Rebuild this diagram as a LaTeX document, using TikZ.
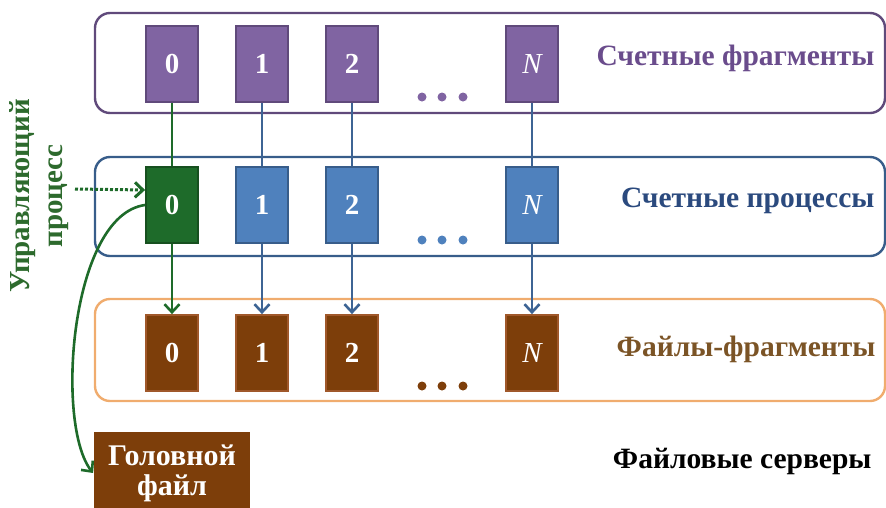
\documentclass[tikz,border=0pt]{standalone}
\usepackage{fontspec}
\setmainfont{Liberation Serif}
\usetikzlibrary{arrows.meta}

\definecolor{fragfill}{HTML}{8064A2}
\definecolor{fragdraw}{HTML}{604A7B}
\definecolor{fragtext}{HTML}{6A4C8C}
\definecolor{procfill}{HTML}{4F81BD}
\definecolor{procdraw}{HTML}{385D8A}
\definecolor{proctext}{HTML}{2B4A7E}
\definecolor{ctrlfill}{HTML}{1E6B2A}
\definecolor{ctrldraw}{HTML}{17501F}
\definecolor{ctrltext}{HTML}{2D6A2D}
\definecolor{filefill}{HTML}{7D3E0A}
\definecolor{filedraw}{HTML}{A0582A}
\definecolor{fileline}{HTML}{F0AC6E}
\definecolor{filetext}{HTML}{7B5426}

\begin{document}
\begin{tikzpicture}[x=1pt,y=-1pt]
	\tikzset{block/.style={rectangle, minimum width=52pt, minimum height=76pt, inner sep=0pt, line width=1.8pt, text=white, font=\fontsize{29}{32}\selectfont\bfseries}};
	\tikzset{frame/.style={rounded corners=15pt, line width=2.4pt}};
	\tikzset{lbl/.style={anchor=east, font=\fontsize{29.5}{32}\selectfont\bfseries}};
	\tikzset{link/.style={line width=2.6pt, >={Straight Barb[length=8pt,width=15pt]}}};
	\useasboundingbox (0,0) rectangle (886,507);
	% three levels
	\draw[frame,fragdraw] (95, 13) rectangle (885,113);
	\draw[frame,procdraw] (95,157) rectangle (885,256);
	\draw[frame,fileline] (95,299) rectangle (885,401);
	% blocks
	\node[draw=fragdraw,fill=fragfill,block] (Frag0) at (172, 64) {0};
	\node[draw=fragdraw,fill=fragfill,block] (Frag1) at (262, 64) {1};
	\node[draw=fragdraw,fill=fragfill,block] (Frag2) at (352, 64) {2};
	\node[draw=fragdraw,fill=fragfill,block] (FragN) at (532, 64) {\mdseries\itshape N};
	\node[draw=ctrldraw,fill=ctrlfill,block] (Ctrl0) at (172,205) {0};
	\node[draw=procdraw,fill=procfill,block] (Proc1) at (262,205) {1};
	\node[draw=procdraw,fill=procfill,block] (Proc2) at (352,205) {2};
	\node[draw=procdraw,fill=procfill,block] (ProcN) at (532,205) {\mdseries\itshape N};
	\node[draw=filedraw,fill=filefill,block] (File0) at (172,353) {0};
	\node[draw=filedraw,fill=filefill,block] (File1) at (262,353) {1};
	\node[draw=filedraw,fill=filefill,block] (File2) at (352,353) {2};
	\node[draw=filedraw,fill=filefill,block] (FileN) at (532,353) {\mdseries\itshape N};
	\node[fill=filefill,block,minimum width=156pt,minimum height=82pt,align=center,font=\fontsize{30}{30}\selectfont\bfseries] (Head) at (172,473) {Головной\\файл};
	% dots
	\fill[fragfill] (422, 97) circle (4.5);
	\fill[fragfill] (442, 97) circle (4.5);
	\fill[fragfill] (463, 97) circle (4.5);
	\fill[procfill] (422,240) circle (4.5);
	\fill[procfill] (442,240) circle (4.5);
	\fill[procfill] (463,240) circle (4.5);
	\fill[filefill] (422,386) circle (4.5);
	\fill[filefill] (442,386) circle (4.5);
	\fill[filefill] (463,386) circle (4.5);
	% labels
	\node[lbl,text=fragtext] (FragLbl) at (878, 58) {Счетные фрагменты};
	\node[lbl,text=proctext] (ProcLbl) at (878,201) {Счетные процессы};
	\node[lbl,text=filetext] (FileLbl) at (879,349) {Файлы-фрагменты};
	\node[lbl,text=black   ] (SrvLbl ) at (875,461) {Файловые серверы};
	\node[rotate=90,align=center,text=ctrltext,font=\fontsize{29}{33}\selectfont\bfseries] (CtrlLbl) at (39,196) {Управляющий\\процесс};
	% links
	\draw[link,ctrlfill] (Frag0)--(Ctrl0);
	\draw[link,procdraw!80!procfill] (Frag1)--(Proc1);
	\draw[link,procdraw!80!procfill] (Frag2)--(Proc2);
	\draw[link,procdraw!80!procfill] (FragN)--(ProcN);
	\draw[link,ctrlfill,->] (Ctrl0)--(File0);
	\draw[link,procdraw!80!procfill,->] (Proc1)--(File1);
	\draw[link,procdraw!80!procfill,->] (Proc2)--(File2);
	\draw[link,procdraw!80!procfill,->] (ProcN)--(FileN);
	\coordinate (CtrlIn) at (75,189);
	\draw[link,ctrlfill,line width=3pt,dash pattern=on 3pt off 2pt,->] (CtrlIn)--([yshift=15pt]Ctrl0.west);
	\draw[link,ctrlfill,->] (Ctrl0.west) .. controls (70,215) and (55,425) .. (Head.west);
\end{tikzpicture}
\end{document}
